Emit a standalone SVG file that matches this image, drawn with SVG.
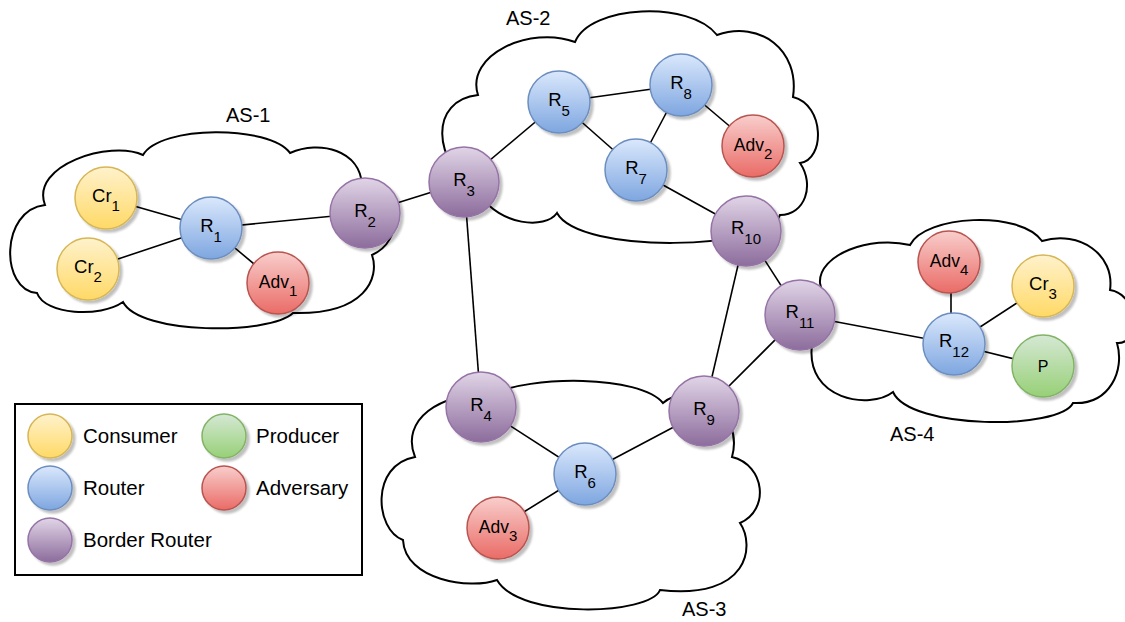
<svg xmlns="http://www.w3.org/2000/svg" width="1125" height="622" viewBox="0 0 1125 622">
<defs>
<linearGradient id="gY" x1="0" y1="0" x2="0" y2="1"><stop offset="0" stop-color="#fff2cc"/><stop offset="1" stop-color="#ffd966"/></linearGradient>
<linearGradient id="gG" x1="0" y1="0" x2="0" y2="1"><stop offset="0" stop-color="#d5e8d4"/><stop offset="1" stop-color="#97d077"/></linearGradient>
<linearGradient id="gB" x1="0" y1="0" x2="0" y2="1"><stop offset="0" stop-color="#dae8fc"/><stop offset="1" stop-color="#7ea6e0"/></linearGradient>
<linearGradient id="gR" x1="0" y1="0" x2="0" y2="1"><stop offset="0" stop-color="#f8cecc"/><stop offset="1" stop-color="#ea6b66"/></linearGradient>
<linearGradient id="gP" x1="0" y1="0" x2="0" y2="1"><stop offset="0" stop-color="#e1d5e7"/><stop offset="1" stop-color="#8c6c9c"/></linearGradient>
<filter id="sh" x="-20%" y="-20%" width="150%" height="150%">
<feGaussianBlur in="SourceAlpha" stdDeviation="1.2"/><feOffset dx="3" dy="3"/>
<feComponentTransfer><feFuncA type="linear" slope="0.25"/></feComponentTransfer>
<feMerge><feMergeNode/><feMergeNode in="SourceGraphic"/></feMerge>
</filter>
</defs>
<style>
.cloud{fill:#fff;stroke:#000;stroke-width:2}
.lbl{font-family:"Liberation Sans",Arial,sans-serif;font-size:20px;fill:#000}
.edge{stroke:#000;stroke-width:1.6;fill:none}
circle.n{stroke-width:1.5;filter:url(#sh)}
.cons{fill:url(#gY);stroke:#d6b656}
.prod{fill:url(#gG);stroke:#82b366}
.rout{fill:url(#gB);stroke:#6c8ebf}
.adv{fill:url(#gR);stroke:#b85450}
.brd{fill:url(#gP);stroke:#9673a6}
.t{font-family:"Liberation Sans",Arial,sans-serif;font-size:18.5px;fill:#000;text-anchor:middle}
.ta{font-family:"Liberation Sans",Arial,sans-serif;font-size:17.5px;fill:#000;text-anchor:middle}
.s{font-size:15px}
.leg{font-family:"Liberation Sans",Arial,sans-serif;font-size:20.5px;fill:#000}
</style>
<rect width="1125" height="622" fill="#fff"/>

<g id="clouds">
<path id="as1" class="cloud" d="M143,155 C160,125 270,125 290,153 C320,140 360,150 362,185 C400,195 405,240 372,255 C380,278 365,315 293,313 C270,335 140,335 123,302 C100,318 45,315 37,293 C0,290 0,210 45,205 C30,165 110,140 143,155 Z"/>
<path id="as2" class="cloud" d="M575,42 C590,5 690,0 717,35 C760,20 800,50 793,97 C825,105 825,160 800,163 C815,185 805,215 780,215 C770,250 580,255 557,213 C545,230 500,225 480,195 C430,160 430,100 478,95 C465,55 530,25 575,42 Z"/>
<path id="as3" class="cloud" d="M415,457 C400,420 440,392 490,395 C530,375 640,375 663,403 C690,380 745,410 732,457 C765,465 770,510 740,523 C755,545 750,600 660,590 C650,615 520,620 497,580 C470,590 405,580 403,540 C375,530 370,465 415,457 Z"/>
<path id="as4" class="cloud" d="M910,245 C925,215 1020,210 1042,241 C1080,230 1115,255 1110,290 C1140,295 1140,345 1117,343 C1125,370 1110,405 1073,403 C1060,430 910,430 893,392 C870,410 805,400 812,345 C825,320 825,300 820,283 C818,255 870,235 910,245 Z"/>
<text class="lbl" x="226" y="122">AS-1</text>
<text class="lbl" x="506" y="25">AS-2</text>
<text class="lbl" x="682" y="616">AS-3</text>
<text class="lbl" x="890" y="441">AS-4</text>
</g>

<g id="connectors">
<line class="edge" x1="106" y1="198" x2="211" y2="228"/>
<line class="edge" x1="88" y1="269" x2="211" y2="228"/>
<line class="edge" x1="211" y1="228" x2="278" y2="284"/>
<line class="edge" x1="211" y1="228" x2="365" y2="213"/>
<line class="edge" x1="365" y1="213" x2="464" y2="182"/>
<line class="edge" x1="464" y1="182" x2="559" y2="102"/>
<line class="edge" x1="464" y1="182" x2="481" y2="407"/>
<line class="edge" x1="559" y1="102" x2="681" y2="85"/>
<line class="edge" x1="559" y1="102" x2="636" y2="170"/>
<line class="edge" x1="636" y1="170" x2="681" y2="85"/>
<line class="edge" x1="681" y1="85" x2="753" y2="146"/>
<line class="edge" x1="636" y1="170" x2="746" y2="231"/>
<line class="edge" x1="746" y1="231" x2="800" y2="315"/>
<line class="edge" x1="746" y1="231" x2="704" y2="411"/>
<line class="edge" x1="704" y1="411" x2="800" y2="315"/>
<line class="edge" x1="800" y1="315" x2="954" y2="344"/>
<line class="edge" x1="951" y1="262" x2="951" y2="344"/>
<line class="edge" x1="954" y1="344" x2="1043" y2="286"/>
<line class="edge" x1="954" y1="344" x2="1043" y2="366"/>
<line class="edge" x1="481" y1="407" x2="585" y2="474"/>
<line class="edge" x1="585" y1="474" x2="704" y2="411"/>
<line class="edge" x1="585" y1="474" x2="498" y2="528"/>
</g>

<g id="n-cr1"><circle class="n cons" cx="106" cy="198" r="31"/><text class="t" x="106" y="202">Cr<tspan class="s" dy="9">1</tspan></text></g>
<g id="n-cr2"><circle class="n cons" cx="88" cy="269" r="31"/><text class="t" x="88" y="273">Cr<tspan class="s" dy="9">2</tspan></text></g>
<g id="n-r1"><circle class="n rout" cx="211" cy="228" r="31"/><text class="t" x="211" y="232">R<tspan class="s" dy="10">1</tspan></text></g>
<g id="n-adv1"><circle class="n adv" cx="278" cy="283" r="31"/><text class="ta" x="278" y="288">Adv<tspan class="s" dy="8">1</tspan></text></g>
<g id="n-r2"><circle class="n brd" cx="365" cy="213" r="35"/><text class="t" x="365" y="217">R<tspan class="s" dy="10">2</tspan></text></g>
<g id="n-r3"><circle class="n brd" cx="464" cy="182" r="35"/><text class="t" x="464" y="186">R<tspan class="s" dy="10">3</tspan></text></g>
<g id="n-r5"><circle class="n rout" cx="559" cy="102" r="31"/><text class="t" x="559" y="106">R<tspan class="s" dy="10">5</tspan></text></g>
<g id="n-r8"><circle class="n rout" cx="681" cy="85" r="31"/><text class="t" x="681" y="89">R<tspan class="s" dy="10">8</tspan></text></g>
<g id="n-r7"><circle class="n rout" cx="636" cy="170" r="31"/><text class="t" x="636" y="174">R<tspan class="s" dy="10">7</tspan></text></g>
<g id="n-adv2"><circle class="n adv" cx="753" cy="146" r="31"/><text class="ta" x="753" y="151">Adv<tspan class="s" dy="8">2</tspan></text></g>
<g id="n-r10"><circle class="n brd" cx="746" cy="231" r="35"/><text class="t" x="746" y="234">R<tspan class="s" dy="10">10</tspan></text></g>
<g id="n-r11"><circle class="n brd" cx="800" cy="315" r="35"/><text class="t" x="800" y="318">R<tspan class="s" dy="10">11</tspan></text></g>
<g id="n-adv4"><circle class="n adv" cx="949" cy="262" r="31"/><text class="ta" x="949" y="267">Adv<tspan class="s" dy="8">4</tspan></text></g>
<g id="n-cr3"><circle class="n cons" cx="1043" cy="286" r="31"/><text class="t" x="1043" y="290">Cr<tspan class="s" dy="9">3</tspan></text></g>
<g id="n-r12"><circle class="n rout" cx="954" cy="344" r="31"/><text class="t" x="954" y="347">R<tspan class="s" dy="10">12</tspan></text></g>
<g id="n-p"><circle class="n prod" cx="1043" cy="366" r="31"/><text class="t" x="1043" y="372" style="font-size:16px">P</text></g>
<g id="n-r4"><circle class="n brd" cx="481" cy="407" r="35"/><text class="t" x="481" y="411">R<tspan class="s" dy="10">4</tspan></text></g>
<g id="n-r9"><circle class="n brd" cx="704" cy="411" r="35"/><text class="t" x="704" y="415">R<tspan class="s" dy="10">9</tspan></text></g>
<g id="n-r6"><circle class="n rout" cx="585" cy="474" r="31"/><text class="t" x="585" y="478">R<tspan class="s" dy="10">6</tspan></text></g>
<g id="n-adv3"><circle class="n adv" cx="498" cy="528" r="31"/><text class="ta" x="498" y="533">Adv<tspan class="s" dy="8">3</tspan></text></g>

<g id="legend">
<rect x="15" y="404" width="347" height="171" fill="#fff" stroke="#000" stroke-width="2"/>
<circle class="n cons" cx="50" cy="436" r="22"/><text class="leg" x="83" y="443">Consumer</text>
<circle class="n prod" cx="224" cy="436" r="22"/><text class="leg" x="256" y="443">Producer</text>
<circle class="n rout" cx="50" cy="488" r="22"/><text class="leg" x="83" y="495">Router</text>
<circle class="n adv" cx="224" cy="488" r="22"/><text class="leg" x="256" y="495">Adversary</text>
<circle class="n brd" cx="50" cy="540" r="22"/><text class="leg" x="83" y="547">Border Router</text>
</g>
</svg>
